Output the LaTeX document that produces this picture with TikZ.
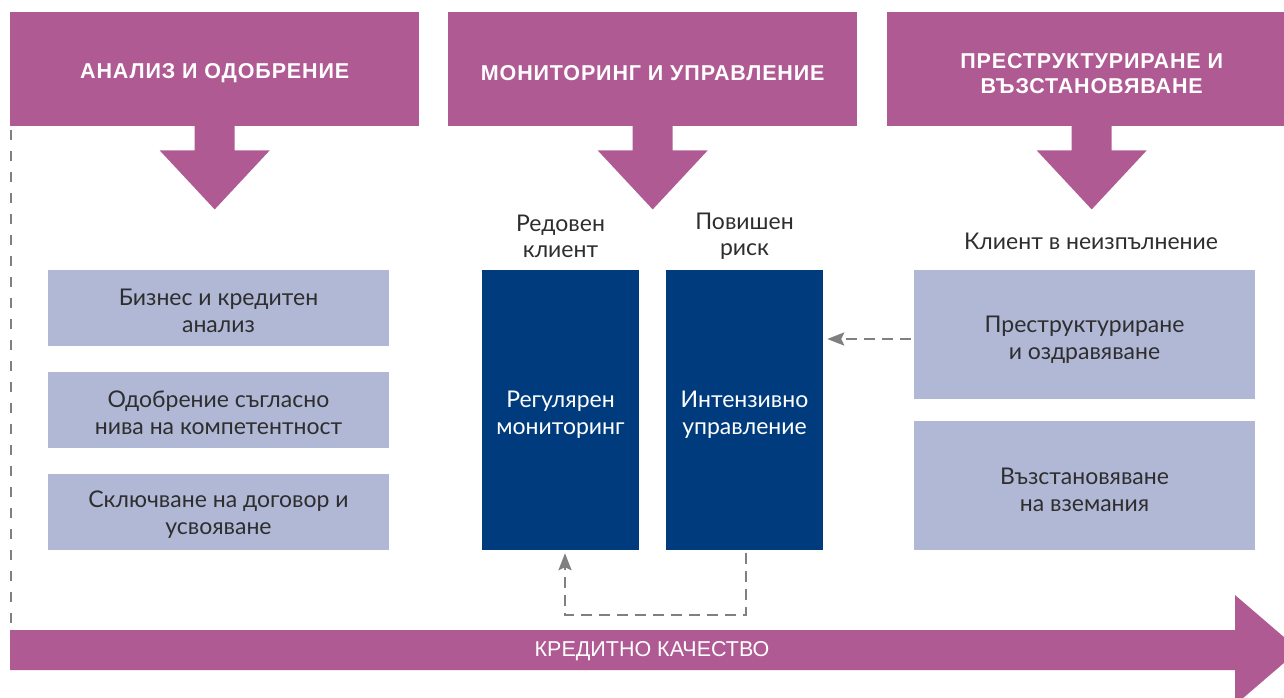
\documentclass[tikz,border=0pt]{standalone}
\usepackage{fontspec}
\setmainfont{Lato}[Script=Cyrillic,Language=Bulgarian]
\newfontfamily\axisfont{Liberation Sans}
\newfontfamily\headfont{Liberation Sans}[Script=Cyrillic,Language=Bulgarian,LetterSpace=4]
\usetikzlibrary{arrows.meta}
\definecolor{mag}{HTML}{B05A93}
\definecolor{lav}{HTML}{B0B8D6}
\definecolor{navy}{HTML}{003C7D}
\definecolor{txt}{HTML}{2E2E2E}
\definecolor{dashgray}{HTML}{808080}
\tikzset{
  headbox/.style={fill=mag, minimum width=409pt, minimum height=114pt,
    anchor=north west, inner sep=0pt},
  headtext/.style={text=white, inner sep=0pt, align=center,
    font=\headfont\bfseries\fontsize{21.5}{25}\selectfont},
  lavbox/.style={fill=lav, minimum width=341pt, inner sep=0pt},
  navybox/.style={fill=navy, minimum width=157pt, minimum height=280pt, inner sep=0pt},
  boxtext/.style={text=txt, inner sep=0pt, align=center, font=\fontsize{23}{27}\selectfont},
  navytext/.style={boxtext, text=white},
  plainlabel/.style={text=txt, align=center, inner sep=0pt, font=\fontsize{23}{26}\selectfont},
  dasharrow/.style={draw=dashgray, line width=2.5pt, dash pattern=on 11pt off 7pt,
    -{Stealth[length=17pt,width=13pt,inset=3pt]}},
  dashline/.style={draw=dashgray, line width=2.5pt, dash pattern=on 10pt off 11pt},
}
\begin{document}
\begin{tikzpicture}[x=1pt,y=-1pt]
\useasboundingbox (0,0) rectangle (1284,697);
\clip (0,0) rectangle (1284,697);
% left dashed line
\coordinate (lt) at (11,130);
\coordinate (lb) at (11,632);
\draw[dashline] (lt) -- (lb);
% headers
\node[headbox] (h1) at (10,12) {};
\node[headbox] (h2) at (448,12) {};
\node[headbox] (h3) at (887,12) {};
\node[headtext] (h1t) at ([yshift=-4pt]h1.center) {АНАЛИЗ И ОДОБРЕНИЕ};
\node[headtext] (h2t) at ([yshift=-4pt]h2.center) {МОНИТОРИНГ И УПРАВЛЕНИЕ};
\node[headtext] (h3t) at ([yshift=-4.5pt]h3.center) {ПРЕСТРУКТУРИРАНЕ И\\ВЪЗСТАНОВЯВАНЕ};
\foreach \h in {h1,h2,h3}{
  \fill[mag] (\h.south) ++(-20,-1) -- ++(0,25) -- ++(-35,0) -- ++(55,59) -- ++(55,-59) -- ++(-35,0) -- ++(0,-25) -- cycle;
}
% left column
\node[lavbox, minimum height=76pt] (a1) at (218.5,308) {};
\node[lavbox, minimum height=76pt] (a2) at (218.5,410) {};
\node[lavbox, minimum height=76pt] (a3) at (218.5,512) {};
\node[boxtext] (a1t) at ([yshift=-3pt]a1.center) {Бизнес и кредитен\\анализ};
\node[boxtext] (a2t) at ([yshift=-3pt]a2.center) {Одобрение съгласно\\нива на компетентност};
\node[boxtext] (a3t) at ([yshift=-3pt]a3.center) {Сключване на договор и\\усвояване};
% middle
\node[plainlabel] (l1) at (560.5,236) {Редовен\\клиент};
\node[plainlabel] (l2) at (744.5,236) {Повишен\\риск};
\node[navybox] (b1) at (560.5,410) {};
\node[navybox] (b2) at (744.5,410) {};
\node[navytext] (b1t) at ([yshift=-5pt]b1.center) {Регулярен\\мониторинг};
\node[navytext] (b2t) at ([yshift=-5pt]b2.center) {Интензивно\\управление};
% right
\node[plainlabel] (l3) at (1091,241) {Клиент в неизпълнение};
\node[lavbox, minimum height=129pt] (r1) at (1084.5,334.5) {};
\node[lavbox, minimum height=129pt] (r2) at (1084.5,485.5) {};
\node[boxtext] (r1t) at ([yshift=-5pt]r1.center) {Преструктуриране\\и оздравяване};
\node[boxtext] (r2t) at ([yshift=-4pt]r2.center) {Възстановяване\\на вземания};
% dashed connectors
\draw[dasharrow, shorten <=3pt, shorten >=4pt] ([yshift=-4.5pt]r1.west) -- ([yshift=-4.5pt]r1.west -| b2.east);
\draw[dasharrow, shorten <=3pt, shorten >=3pt] ([xshift=1.5pt]b2.south) -- ++(0,65) -| ([xshift=4.5pt]b1.south);
% bottom arrow
\fill[mag] (10,630) -- (1235,630) -- (1235,595) -- (1299,650) -- (1235,705) -- (1235,670) -- (10,670) -- cycle;
\node[text=white, inner sep=0pt, font=\axisfont\fontsize{21.5}{24}\selectfont] (cq) at (652,651) {КРЕДИТНО КАЧЕСТВО};
\end{tikzpicture}
\end{document}
